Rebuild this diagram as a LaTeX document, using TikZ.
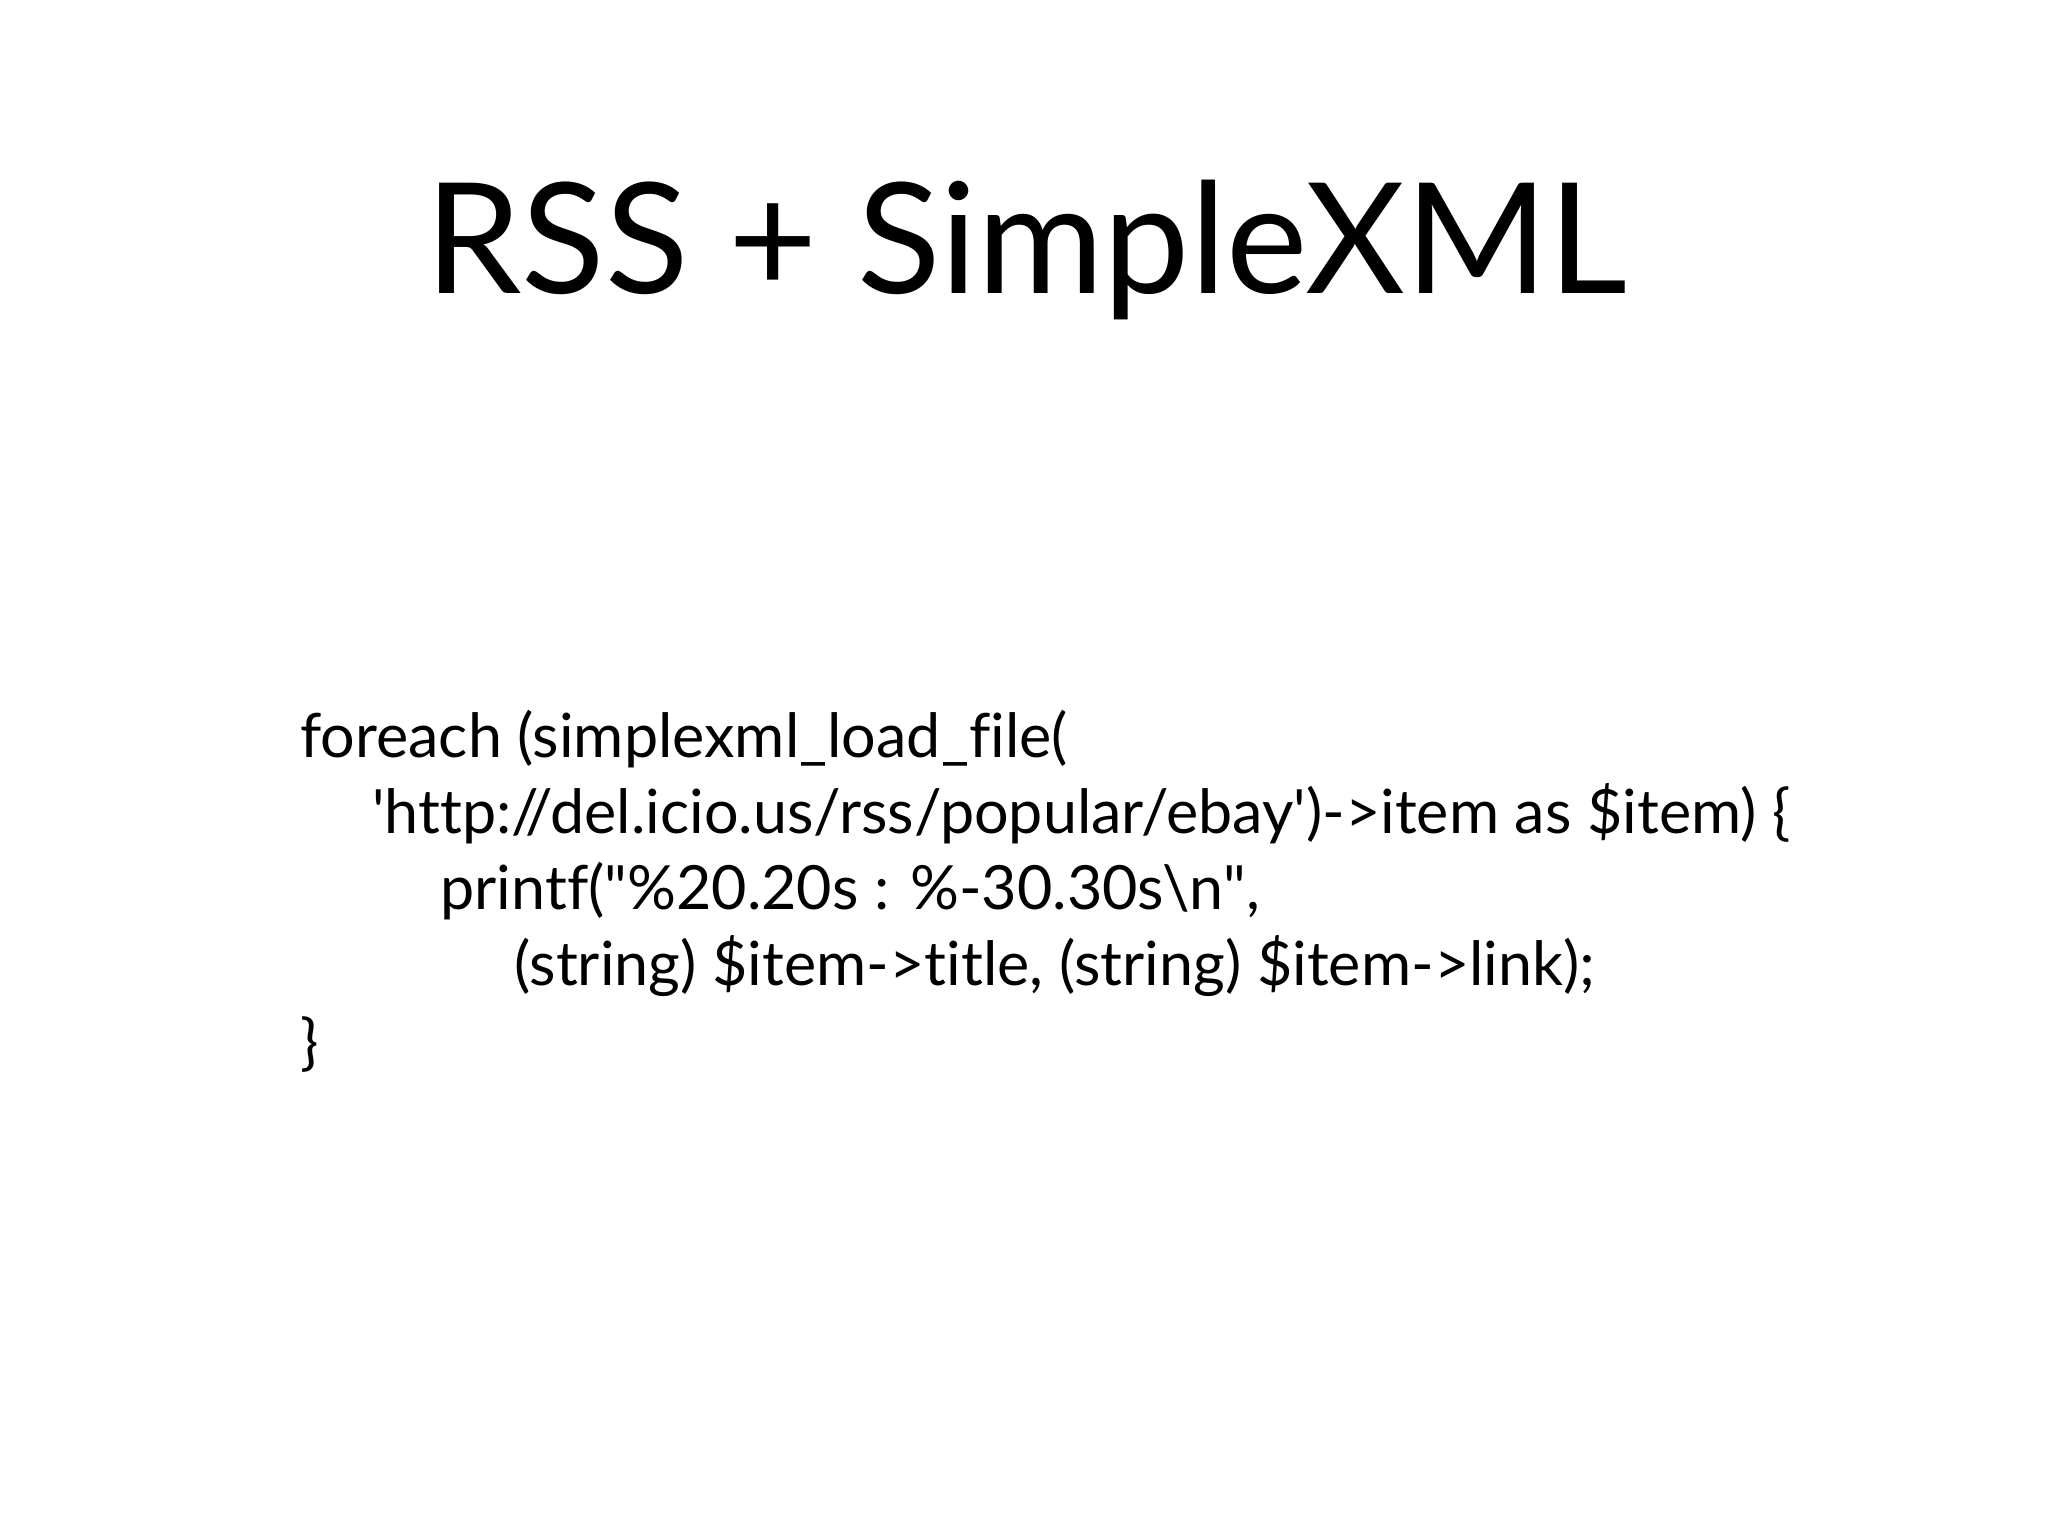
\documentclass[tikz,border=0pt]{standalone}
\usepackage{fontspec}
\setmainfont[Ligatures={NoCommon}]{Lato}
\begin{document}
\begin{tikzpicture}[x=1pt,y=1pt,code/.style={anchor=base west,inner sep=0pt,font=\fontsize{30.5}{36}\selectfont}]
\useasboundingbox (0,0) rectangle (1024,768);
\node[anchor=base,inner sep=0pt,font=\fontsize{77}{90}\selectfont] (title) at (513,621) {RSS + SimpleXML};
\node[code] (l1) at (150,389) {foreach (simplexml\_load\_file(};
\node[code] (l2) at (186,351) {\textquotesingle http://del.icio.us/rss/popular/ebay\textquotesingle)->item as \$item) \{};
\node[code] (l3) at (220,313) {printf(\textquotedbl\%20.20s : \%-30.30s\textbackslash n\textquotedbl,};
\node[code] (l4) at (257,275) {(string) \$item->title, (string) \$item->link);};
\node[code] (l5) at (150,236) {\}};
\end{tikzpicture}
\end{document}
